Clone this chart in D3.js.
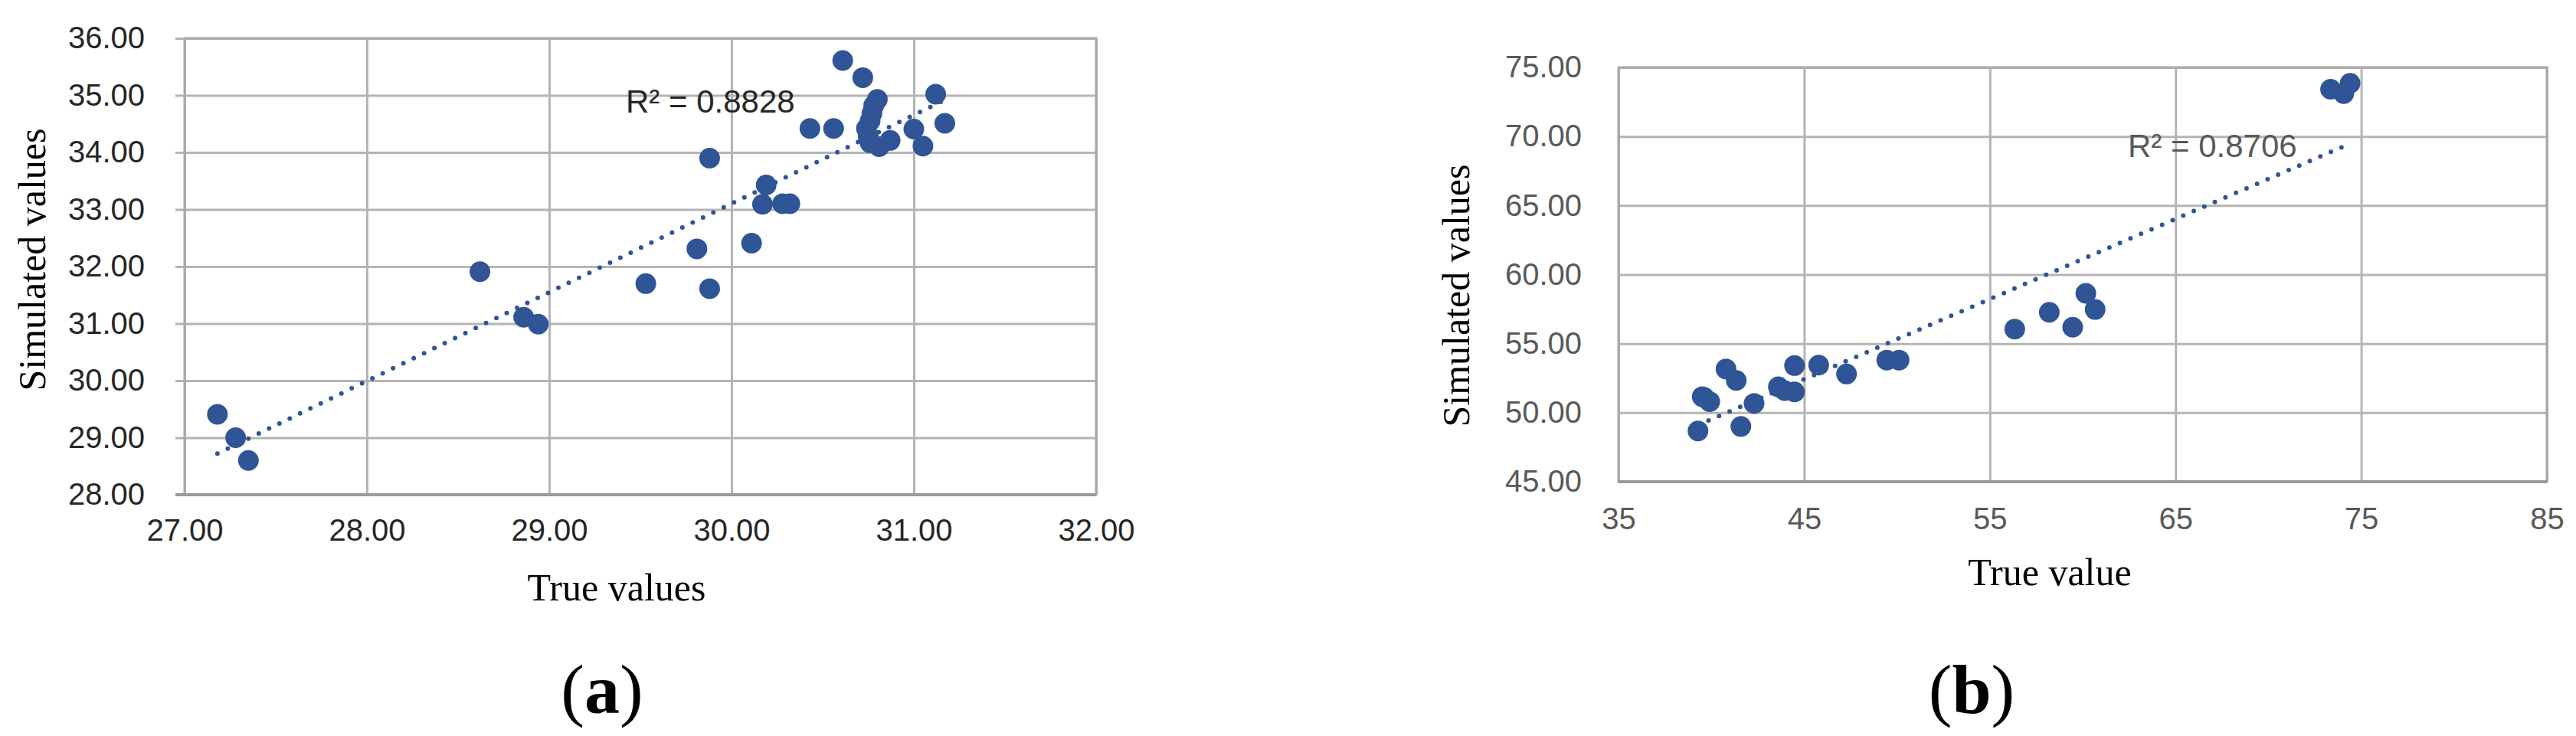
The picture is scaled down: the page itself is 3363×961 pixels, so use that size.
<!DOCTYPE html>
<html>
<head>
<meta charset="utf-8">
<script src="https://cdn.jsdelivr.net/npm/d3@7"></script>
<style>
  body { margin: 0; background: #fff; }
  svg { display: block; }
</style>
</head>
<body>
<div id="chart"></div>
<script>
// ---- data ----
// panel (a)
const trueA = [27.18, 27.28, 27.35, 28.62, 28.86, 28.94, 29.53, 29.81, 29.88, 29.88,
               30.11, 30.17, 30.19, 30.28, 30.32, 30.43, 30.56, 30.61, 30.72, 30.80,
               30.78, 30.77, 30.76, 30.74, 30.75, 30.76, 30.81, 30.87, 31.00, 31.05,
               31.12, 31.17];
const simA  = [29.41, 29.00, 28.60, 31.91, 31.11, 30.99, 31.70, 32.31, 31.61, 33.90,
               32.41, 33.09, 33.43, 33.10, 33.10, 34.42, 34.42, 35.61, 35.31, 34.93,
               34.82, 34.68, 34.55, 34.42, 34.28, 34.17, 34.10, 34.21, 34.41, 34.11,
               35.02, 34.51];
const trendA = [[27.18, 28.72], [31.17, 34.92]];
const xTicksA = [27, 28, 29, 30, 31, 32];
const yTicksA = [28, 29, 30, 31, 32, 33, 34, 35, 36];
const r2A = "R\u00B2 = 0.8828";

// panel (b)
const trueB = [39.28, 39.51, 39.62, 39.91, 40.79, 41.34, 41.59, 42.30, 43.61, 43.95,
               44.48, 44.48, 45.78, 47.28, 49.45, 50.11, 56.34, 58.20, 59.46, 60.17,
               60.67, 73.35, 74.40, 74.06];
const simB  = [48.67, 51.16, 51.10, 50.80, 53.16, 52.33, 49.00, 50.67, 51.87, 51.60,
               51.50, 53.41, 53.44, 52.80, 53.81, 53.81, 56.05, 57.27, 56.19, 58.64,
               57.47, 73.42, 73.85, 73.10];
const trendB = [[39.28, 49.1], [74.26, 69.4]];
const xTicksB = [35, 45, 55, 65, 75, 85];
const yTicksB = [45, 50, 55, 60, 65, 70, 75];
const r2B = "R\u00B2 = 0.8706";

const W = 3363, H = 961;
const blue = "#2f5597";

const svg = d3.select("#chart")
    .append("svg")
    .attr("width", W)
    .attr("height", H);

svg.append("rect").attr("width", W).attr("height", H).attr("fill", "#fff");

function panel(cfg) {
    const g = svg.append("g");
    const w = cfg.x1 - cfg.x0, h = cfg.y1 - cfg.y0;

    const x = d3.scaleLinear().domain(d3.extent(cfg.xTicks)).range([cfg.x0, cfg.x1]);
    const y = d3.scaleLinear().domain(d3.extent(cfg.yTicks)).range([cfg.y1, cfg.y0]);

    // y axis + horizontal grid
    const yAxis = g.append("g")
        .attr("transform", `translate(${cfg.x0 - cfg.tickOut},0)`)
        .call(d3.axisLeft(y)
            .tickValues(cfg.yTicks)
            .tickSize(-(w + cfg.tickOut))
            .tickPadding(cfg.yPad)
            .tickFormat(d3.format(cfg.yFmt)));

    // x axis + vertical grid
    const xAxis = g.append("g")
        .attr("transform", `translate(0,${cfg.y1})`)
        .call(d3.axisBottom(x)
            .tickValues(cfg.xTicks)
            .tickSize(-h)
            .tickPadding(cfg.xPad)
            .tickFormat(d3.format(cfg.xFmt)));

    [xAxis, yAxis].forEach(a => {
        a.select(".domain").remove();
        a.selectAll(".tick line").attr("stroke", "#b4b4b4").attr("stroke-width", 3);
        a.selectAll(".tick text")
            .attr("fill", cfg.textColor)
            .style("font-family", "'Liberation Sans', Arial, sans-serif")
            .style("font-size", "40px");
    });

    // plot frame
    g.append("rect")
        .attr("x", cfg.x0).attr("y", cfg.y0)
        .attr("width", w).attr("height", h)
        .attr("fill", "none")
        .attr("stroke", "#a8a8a8")
        .attr("stroke-width", 3);

    g.append("line")
        .attr("x1", cfg.x0 - cfg.tickOut).attr("x2", cfg.x1)
        .attr("y1", cfg.y1).attr("y2", cfg.y1)
        .attr("stroke", "#9a9a9a")
        .attr("stroke-width", 4);

    // trendline (dotted)
    g.append("path")
        .datum(cfg.trend)
        .attr("d", d3.line().x(d => x(d[0])).y(d => y(d[1])))
        .attr("fill", "none")
        .attr("stroke", blue)
        .attr("stroke-width", 6)
        .attr("stroke-linecap", "round")
        .attr("stroke-dasharray", "0 15");

    // points
    g.selectAll("circle.pt")
        .data(d3.zip(cfg.xs, cfg.ys))
        .join("circle")
        .attr("class", "pt")
        .attr("cx", d => x(d[0]))
        .attr("cy", d => y(d[1]))
        .attr("r", 13.5)
        .attr("fill", blue);

    // R² label
    g.append("text")
        .attr("x", cfg.r2x).attr("y", cfg.r2y)
        .attr("fill", cfg.textColor)
        .style("font-family", "'Liberation Sans', Arial, sans-serif")
        .style("font-size", "42px")
        .text(cfg.r2);

    // axis titles
    g.append("text")
        .attr("x", cfg.xTitle[0]).attr("y", cfg.xTitle[1])
        .attr("text-anchor", "middle")
        .attr("dominant-baseline", "central")
        .style("font-family", "'Liberation Serif', 'Times New Roman', serif")
        .style("font-size", "50px")
        .attr("fill", "#000")
        .text(cfg.xLabel);

    g.append("text")
        .attr("transform", `translate(${cfg.yTitle[0]},${cfg.yTitle[1]}) rotate(-90)`)
        .attr("text-anchor", "middle")
        .attr("dominant-baseline", "central")
        .style("font-family", "'Liberation Serif', 'Times New Roman', serif")
        .style("font-size", "50px")
        .attr("fill", "#000")
        .text(cfg.yLabel);

    // panel letter
    const cap = g.append("text")
        .attr("x", cfg.cap[0]).attr("y", cfg.cap[1])
        .attr("text-anchor", "middle")
        .attr("dominant-baseline", "central")
        .style("font-family", "'Liberation Serif', 'Times New Roman', serif")
        .style("font-size", "92px")
        .attr("fill", "#000");
    cap.append("tspan").text("(");
    cap.append("tspan").attr("font-weight", "bold").text(cfg.letter);
    cap.append("tspan").text(")");
}

panel({
    xs: trueA, ys: simA, trend: trendA, xTicks: xTicksA, yTicks: yTicksA,
    x0: 241, x1: 1431, y0: 50, y1: 646,
    tickOut: 12, yPad: 40, xPad: 32, yFmt: ".2f", xFmt: ".2f",
    textColor: "#262626",
    r2: r2A, r2x: 817, r2y: 147,
    xLabel: "True values", xTitle: [805, 767],
    yLabel: "Simulated values", yTitle: [42, 339],
    letter: "a", cap: [786, 900]
});

panel({
    xs: trueB, ys: simB, trend: trendB, xTicks: xTicksB, yTicks: yTicksB,
    x0: 2113, x1: 3325, y0: 88, y1: 629,
    tickOut: 0, yPad: 48, xPad: 34, yFmt: ".2f", xFmt: "d",
    textColor: "#595959",
    r2: r2B, r2x: 2778, r2y: 205,
    xLabel: "True value", xTitle: [2676, 747],
    yLabel: "Simulated values", yTitle: [1901, 386],
    letter: "b", cap: [2574, 900]
});
</script>
</body>
</html>
